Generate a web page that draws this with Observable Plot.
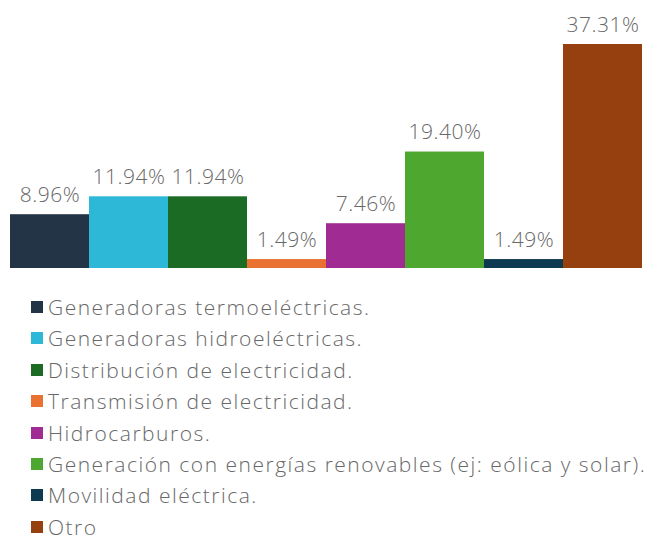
<!DOCTYPE html>
<html>
<head>
<meta charset="utf-8">
<script src="https://cdn.jsdelivr.net/npm/d3@7"></script>
<script src="https://cdn.jsdelivr.net/npm/@observablehq/plot@0.6"></script>
<style>
  html, body { margin: 0; padding: 0; background: #fff; }
  body { width: 650px; height: 542px; overflow: hidden; font-family: "Open Sans", sans-serif; position: relative; }
  #chart text { letter-spacing: 0.5px; }
  .row { position: absolute; left: 31px; height: 16px; display: flex; align-items: center; font-size: 21px; font-weight: 300; color: #686868; white-space: nowrap; letter-spacing: 1.5px; line-height: 16px; }
  .sw { width: 12px; height: 12px; margin-right: 5px; flex: none; }
</style>
</head>
<body>
<div id="chart"></div>
<div id="legend"></div>
<script>
const categories = [
  "Generadoras termoeléctricas.",
  "Generadoras hidroeléctricas.",
  "Distribución de electricidad.",
  "Transmisión de electricidad.",
  "Hidrocarburos.",
  "Generación con energías renovables (ej: eólica y solar).",
  "Movilidad eléctrica.",
  "Otro"
];
const values = [8.96, 11.94, 11.94, 1.49, 7.46, 19.40, 1.49, 37.31];
const colors = ["#243447", "#2cb8d6", "#1b6b24", "#e97132", "#a02b93", "#4ea72e", "#0e3a51", "#96400f"];

const data = categories.map((c, i) => ({category: c, value: values[i]}));

const chart = Plot.plot({
  width: 650,
  height: 285,
  marginTop: 44,
  marginBottom: 17,
  marginLeft: 9,
  marginRight: 7,
  x: {domain: categories, padding: 0, axis: null},
  y: {domain: [0, d3.max(values)], axis: null},
  color: {domain: categories, range: colors},
  style: {fontFamily: "Open Sans, sans-serif", background: "#fff"},
  marks: [
    Plot.barY(data, {x: "category", y: "value", fill: "category"}),
    Plot.text(data, {
      x: "category", y: "value",
      text: d => d.value.toFixed(2) + "%",
      dy: -13, lineAnchor: "bottom",
      fontSize: 21, fontWeight: 300, fill: "#686868"
    })
  ]
});
document.getElementById("chart").appendChild(chart);

const legend = document.getElementById("legend");
categories.forEach((c, i) => {
  const row = document.createElement("div");
  row.className = "row";
  row.style.top = (299 + i * 31.4) + "px";
  const sw = document.createElement("span");
  sw.className = "sw";
  sw.style.background = colors[i];
  const t = document.createElement("span");
  t.textContent = c;
  row.appendChild(sw);
  row.appendChild(t);
  legend.appendChild(row);
});
</script>
</body>
</html>
